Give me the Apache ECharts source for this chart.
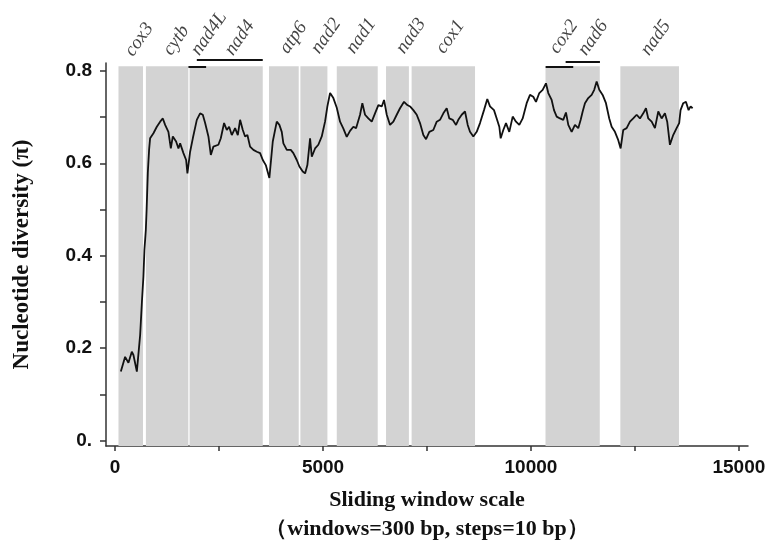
<!DOCTYPE html>
<html>
<head>
<meta charset="utf-8">
<script src="https://cdn.jsdelivr.net/npm/echarts@6/dist/echarts.min.js"></script>
<style>
  html, body { margin: 0; padding: 0; background: #fff; }
  #chart { width: 769px; height: 543px; }
</style>
</head>
<body>
<div id="chart"></div>
<script>
// sliding window position (bp) and nucleotide diversity
const windowPos = [
  137, 240, 320, 401, 440, 522, 601, 642, 680, 704, 738, 757, 786, 817, 841, 921, 1002, 1082, 1147, 1202,
  1281, 1339, 1387, 1466, 1522, 1563, 1642, 1707, 1738, 1803, 1868, 1964, 2043, 2108, 2164, 2243, 2301, 2363, 2483, 2541,
  2620, 2685, 2741, 2805, 2885, 2950, 3005, 3070, 3125, 3181, 3245, 3325, 3407, 3486, 3551, 3623, 3709, 3791, 3887, 3950,
  4007, 4046, 4128, 4224, 4286, 4368, 4431, 4512, 4568, 4623, 4688, 4729, 4808, 4887, 4969, 5048, 5104, 5169, 5248, 5330,
  5409, 5489, 5570, 5649, 5729, 5794, 5890, 5945, 6010, 6089, 6171, 6250, 6330, 6412, 6467, 6532, 6611, 6691, 6772, 6851,
  6948, 7027, 7092, 7171, 7253, 7332, 7412, 7477, 7556, 7652, 7734, 7813, 7893, 7974, 8037, 8118, 8198, 8253, 8335, 8414,
  8479, 8534, 8614, 8695, 8775, 8871, 8950, 9015, 9111, 9176, 9239, 9272, 9335, 9400, 9479, 9561, 9640, 9720, 9801, 9897,
  9977, 10056, 10121, 10201, 10282, 10361, 10417, 10498, 10554, 10619, 10698, 10777, 10842, 10898, 10979, 11058, 11138, 11196, 11244, 11299,
  11378, 11460, 11522, 11580, 11643, 11724, 11804, 11883, 11941, 12020, 12100, 12157, 12220, 12301, 12381, 12460, 12542, 12621, 12701, 12766,
  12821, 12903, 12982, 13062, 13143, 13222, 13277, 13342, 13421, 13503, 13565, 13598, 13662, 13727, 13791, 13840, 13888
];
const piValues = [
  0.149, 0.181, 0.168, 0.192, 0.185, 0.149, 0.228, 0.297, 0.355, 0.412, 0.456, 0.50, 0.58, 0.63, 0.654, 0.665, 0.679, 0.690, 0.697, 0.683,
  0.668, 0.632, 0.658, 0.647, 0.632, 0.643, 0.622, 0.607, 0.578, 0.625, 0.654, 0.694, 0.708, 0.705, 0.687, 0.658, 0.618, 0.636, 0.640, 0.654,
  0.687, 0.672, 0.679, 0.661, 0.676, 0.661, 0.694, 0.672, 0.658, 0.661, 0.636, 0.629, 0.625, 0.622, 0.607, 0.596, 0.568, 0.647, 0.690, 0.683,
  0.668, 0.643, 0.629, 0.629, 0.622, 0.607, 0.593, 0.582, 0.578, 0.596, 0.654, 0.614, 0.632, 0.640, 0.658, 0.690, 0.723, 0.752, 0.741, 0.720,
  0.690, 0.675, 0.657, 0.670, 0.679, 0.676, 0.705, 0.730, 0.705, 0.697, 0.690, 0.708, 0.726, 0.723, 0.737, 0.705, 0.683, 0.690, 0.705, 0.719,
  0.733, 0.726, 0.723, 0.715, 0.705, 0.687, 0.661, 0.652, 0.668, 0.672, 0.690, 0.694, 0.708, 0.719, 0.697, 0.694, 0.683, 0.694, 0.705, 0.712,
  0.683, 0.668, 0.658, 0.668, 0.687, 0.715, 0.739, 0.723, 0.715, 0.697, 0.679, 0.654, 0.672, 0.687, 0.668, 0.701, 0.690, 0.683, 0.697, 0.730,
  0.748, 0.744, 0.733, 0.752, 0.759, 0.773, 0.752, 0.737, 0.715, 0.701, 0.697, 0.694, 0.710, 0.683, 0.668, 0.683, 0.676, 0.694, 0.712, 0.730,
  0.741, 0.748, 0.759, 0.777, 0.759, 0.748, 0.730, 0.697, 0.679, 0.668, 0.650, 0.632, 0.672, 0.676, 0.690, 0.697, 0.705, 0.697, 0.708, 0.719,
  0.697, 0.690, 0.676, 0.712, 0.697, 0.708, 0.690, 0.640, 0.661, 0.676, 0.687, 0.715, 0.730, 0.733, 0.715, 0.723, 0.719
];

// shaded gene regions (bp)
const regionStart = [80, 740, 1790, 3700, 4455, 5330, 6515, 7130, 10350, 12150];
const regionEnd   = [670, 1760, 3550, 4415, 5105, 6315, 7065, 8655, 11655, 13560];

// gene names above the plot, anchored in data units
const geneNames = ['cox3', 'cytb', 'nad4L', 'nad4', 'atp6', 'nad2', 'nad1', 'nad3', 'cox1', 'cox2', 'nad6', 'nad5'];
const geneLabelX = [520, 1440, 2110, 2920, 4240, 5000, 5840, 7040, 8000, 10730, 11420, 12930];
const geneLabelY = [0.824, 0.826, 0.826, 0.826, 0.830, 0.830, 0.830, 0.830, 0.830, 0.830, 0.826, 0.826];

// overlapping gene bars
const barStart = [1762, 1964, 10353, 10834];
const barEnd   = [2188, 3550, 11017, 11659];
const barLevel = [0.8085, 0.823, 0.8085, 0.819];

const xLabelValues = [0, 5000, 10000, 15000];
const xTickValues = [0, 2500, 5000, 7500, 10000, 12500, 15000];
const yLabelValues = [0, 0.2, 0.4, 0.6, 0.8];
const yTickValues = [0, 0.1, 0.2, 0.3, 0.4, 0.5, 0.6, 0.7, 0.8];

const chart = echarts.init(document.getElementById('chart'));

const tickFont = {
  fontFamily: '"Liberation Sans", Arial, sans-serif',
  fontWeight: 'bold',
  fontSize: 19,
  color: '#111'
};

const option = {
  animation: false,
  grid: { left: 106, right: 21, top: 63, bottom: 97, containLabel: false, outerBoundsMode: 'none' },
  xAxis: {
    type: 'value',
    min: -220,
    max: 15220,
    name: 'Sliding window scale\n\uFF08windows=300 bp, steps=10 bp\uFF09',
    nameLocation: 'middle',
    nameGap: 40,
    nameTextStyle: {
      fontFamily: '"Liberation Serif", "Times New Roman", serif',
      fontWeight: 'bold',
      fontSize: 22,
      lineHeight: 29,
      color: '#111'
    },
    splitLine: { show: false },
    axisLine: { onZero: false, lineStyle: { color: '#333', width: 1.5 } },
    axisTick: { customValues: xTickValues, length: 5, lineStyle: { color: '#333', width: 1.5 } },
    axisLabel: Object.assign({
      customValues: xLabelValues,
      margin: 12,
      formatter: v => String(v)
    }, tickFont)
  },
  yAxis: {
    type: 'value',
    min: -0.012,
    max: 0.817,
    name: 'Nucleotide diversity (\u03C0)',
    nameLocation: 'middle',
    nameGap: 72,
    nameTextStyle: {
      fontFamily: '"Liberation Serif", "Times New Roman", serif',
      fontWeight: 'bold',
      fontSize: 23,
      color: '#111'
    },
    splitLine: { show: false },
    axisLine: { onZero: false, lineStyle: { color: '#333', width: 1.5 } },
    axisTick: { customValues: yTickValues, length: 6, lineStyle: { color: '#333', width: 1.5 } },
    axisLabel: Object.assign({
      customValues: yLabelValues,
      margin: 14,
      formatter: v => (v === 0 ? '0.' : v.toFixed(1))
    }, tickFont)
  },
  series: [
    {
      // gene regions
      type: 'line',
      data: [],
      silent: true,
      z: 1,
      markArea: {
        silent: true,
        itemStyle: { color: '#d3d3d3' },
        data: regionStart.map((s, i) => [
          { xAxis: s, yAxis: -0.012 },
          { xAxis: regionEnd[i], yAxis: 0.81 }
        ])
      }
    },
    {
      type: 'line',
      data: windowPos.map((x, i) => [x, piValues[i]]),
      showSymbol: false,
      z: 5,
      lineStyle: { color: '#111', width: 1.8 }
    },
    {
      type: 'lines',
      coordinateSystem: 'cartesian2d',
      clip: false,
      silent: true,
      z: 6,
      lineStyle: { color: '#111', width: 2, opacity: 1 },
      data: barStart.map((s, i) => ({ coords: [[s, barLevel[i]], [barEnd[i], barLevel[i]]] }))
    },
    {
      type: 'scatter',
      clip: false,
      silent: true,
      symbolSize: 0,
      z: 6,
      data: geneNames.map((n, i) => ({ name: n, value: [geneLabelX[i], geneLabelY[i]] })),
      label: {
        show: true,
        position: 'inside',
        formatter: '{b}',
        rotate: 55,
        align: 'left',
        verticalAlign: 'bottom',
        fontFamily: '"Liberation Serif", "Times New Roman", serif',
        fontStyle: 'italic',
        fontSize: 19,
        color: '#111'
      }
    }
  ]
};

chart.setOption(option);
window.addEventListener('resize', () => chart.resize());
</script>
</body>
</html>
